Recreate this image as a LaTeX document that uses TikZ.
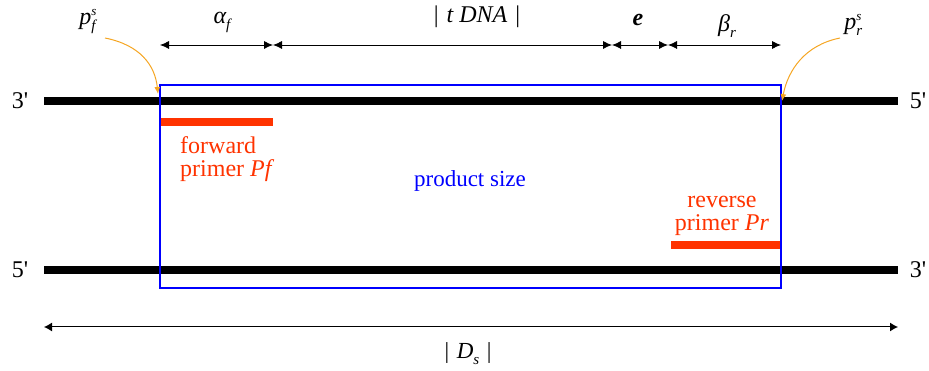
\documentclass[tikz,border=0pt]{standalone}
\usepackage{fontspec}
\setmainfont{Liberation Serif}
\usetikzlibrary{arrows.meta}
\definecolor{primred}{HTML}{FF3300}
\definecolor{boxblue}{HTML}{0000FF}
\definecolor{curveorange}{HTML}{F5A623}
\tikzset{
  strand/.style={line width=8pt},
  primerbar/.style={line width=8pt, primred},
  dimarrow/.style={line width=0.8pt, {Latex[length=9pt,width=8pt]}-{Latex[length=9pt,width=8pt]}},
  curvearrow/.style={line width=1pt, curveorange, -{Latex[length=7pt,width=6pt]}},
  endlabel/.style={font=\fontsize{24}{26}\selectfont},
  redtext/.style={primred, font=\fontsize{24}{23}\selectfont},
  mathlabel/.style={font=\fontsize{24}{26}\selectfont\itshape},
}
\newcommand{\mysub}[1]{\raisebox{-6pt}{\fontsize{15}{16}\selectfont\itshape #1}}
\newcommand{\mysup}[1]{\raisebox{9pt}{\fontsize{13}{14}\selectfont\itshape #1}}
\begin{document}
\begin{tikzpicture}[x=1pt,y=-1pt]
\useasboundingbox (0,0) rectangle (929,371);
% strands
\coordinate (tl) at (44,101);
\coordinate (tr) at (898,101);
\coordinate (bl) at (44,270);
\coordinate (br) at (898,270);
\draw[strand] (tl) -- (tr);
\draw[strand] (bl) -- (br);
\node[endlabel] (t3) at (20,101) {3\textquotesingle};
\node[endlabel] (t5) at (918,101) {5\textquotesingle};
\node[endlabel] (b5) at (20,270) {5\textquotesingle};
\node[endlabel] (b3) at (918,270) {3\textquotesingle};
% product box
\node[draw=boxblue, line width=2pt, minimum width=621pt, minimum height=203pt, inner sep=0pt] (box) at (470.5,186.5) {};
\node[boxblue, font=\fontsize{23}{26}\selectfont] (ps) at (470,181) {product size};
% primers
\coordinate (fa) at (161,122);
\coordinate (fb) at (273,122);
\draw[primerbar] (fa) -- (fb);
\node[redtext, align=left, anchor=north west, inner sep=0pt] (ftext) at (180,136) {forward\\primer \textit{Pf}};
\coordinate (ra) at (671,245);
\coordinate (rb) at (780,245);
\draw[primerbar] (ra) -- (rb);
\node[redtext, align=center, anchor=south, inner sep=0pt] (rtext) at (722,236) {reverse\\primer \textit{Pr}};
% top dimension arrows
\coordinate (d0) at (160,45);
\coordinate (d1) at (273,45);
\coordinate (d2) at (612,45);
\coordinate (d3) at (668,45);
\coordinate (d4) at (781,45);
\draw[dimarrow] (d0) -- (d1);
\draw[dimarrow] (d1) -- (d2);
\draw[dimarrow] (d2) -- (d3);
\draw[dimarrow] (d3) -- (d4);
\node[mathlabel] (alab) at (222,22) {α\mysub{f}};
\node[font=\fontsize{24}{26}\selectfont] (tlab) at (477,17) {|\,\,\textit{t DNA}\,\,|};
\node[font=\fontsize{24}{26}\selectfont\bfseries\itshape] (elab) at (638,20) {e};
\node[mathlabel] (blab) at (727,26) {β\mysub{r}};
% p labels with curved arrows
\node[mathlabel] (pf) at (88,22) {p\makebox[0pt][l]{\mysub{f}}\mysup{s}};
\node[mathlabel] (pr) at (853,25) {p\makebox[0pt][l]{\mysub{r}}\mysup{s}};
\coordinate (pfs) at (105,38);
\coordinate (pfe) at (158,94);
\coordinate (prs) at (840,38);
\coordinate (pre) at (782,101);
\draw[curvearrow] (pfs) .. controls (140,45) and (155,65) .. (pfe);
\draw[curvearrow] (prs) .. controls (805,45) and (788,70) .. (pre);
% bottom dimension
\coordinate (s0) at (44,327);
\coordinate (s1) at (898,327);
\draw[line width=1pt, {Latex[length=8pt,width=9pt]}-{Latex[length=8pt,width=9pt]}] (s0) -- (s1);
\node[font=\fontsize{23}{24}\selectfont] (ds) at (468,354) {|\,\,\textit{D}\mysub{s}\,\,|};
\end{tikzpicture}
\end{document}
